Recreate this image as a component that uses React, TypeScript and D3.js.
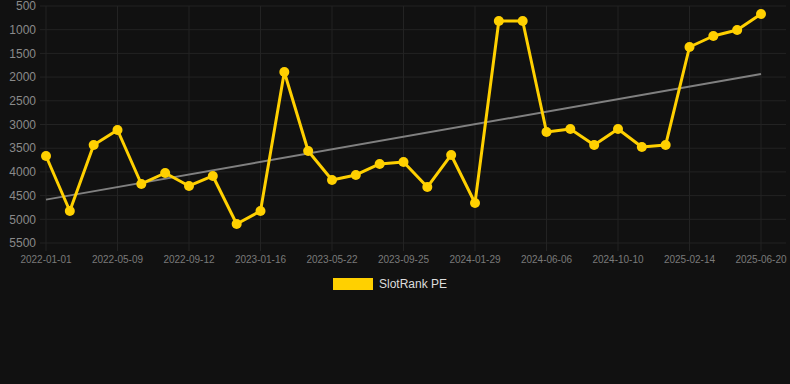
import React from "react";
import * as d3 from "d3";

const tickLabels = [
  "2022-01-01", "2022-05-09", "2022-09-12", "2023-01-16", "2023-05-22", "2023-09-25",
  "2024-01-29", "2024-06-06", "2024-10-10", "2025-02-14", "2025-06-20",
];
const rankValues = [
  3665, 4825, 3432, 3116, 4255, 4023, 4297, 4086, 5099, 4825,
  1892, 3559, 4171, 4065, 3833, 3791, 4319, 3643, 4656, 816,
  816, 3158, 3095, 3432, 3095, 3475, 3432, 1365, 1133, 1006, 669,
];
const yTicks = [500, 1000, 1500, 2000, 2500, 3000, 3500, 4000, 4500, 5000, 5500];
const seriesName = "SlotRank PE";

const W = 790, H = 384;
const left = 46, right = 761, top = 6, bottom = 243;
const gridRight = 786;

export default function App() {
  const n = rankValues.length;
  const idx = d3.range(n);
  const x = d3.scaleLinear().domain([0, n - 1]).range([left, right]);
  const y = d3.scaleLinear().domain([500, 5500]).range([top, bottom]);

  const meanX = d3.mean(idx)!;
  const meanY = d3.mean(rankValues)!;
  const slope = d3.sum(idx, (i) => (i - meanX) * (rankValues[i] - meanY)) / d3.sum(idx, (i) => (i - meanX) ** 2);
  const intercept = meanY - slope * meanX;

  const line = d3.line<number>().x((_, i) => x(i)).y((v) => y(v));
  const tickIdx = tickLabels.map((_, k) => k * 3);
  const font = "Arial, 'Liberation Sans', Helvetica, sans-serif";

  return (
    <svg width={W} height={H} style={{ position: "absolute", left: 0, top: 0, background: "#111111" }} fontFamily={font}>
      <rect width={W} height={H} fill="#111111" />
      {yTicks.map((t) => (
        <g key={t}>
          <line x1={left - 6} x2={gridRight} y1={y(t)} y2={y(t)} stroke="#232323" strokeWidth={1} />
          <text x={36} y={y(t)} dy="0.35em" textAnchor="end" fill="#8a8a8a" fontSize={12}>{t}</text>
        </g>
      ))}
      {tickIdx.map((i, k) => (
        <g key={i}>
          <line x1={x(i)} x2={x(i)} y1={top} y2={bottom + 8} stroke="#232323" strokeWidth={1} />
          <text x={x(i)} y={259} dy="0.35em" textAnchor="middle" fill="#7a7a7a" fontSize={10}>{tickLabels[k]}</text>
        </g>
      ))}
      <line
        x1={x(0)} y1={y(intercept)} x2={x(n - 1)} y2={y(intercept + slope * (n - 1))}
        stroke="#808080" strokeWidth={2}
      />
      <path d={line(rankValues)!} fill="none" stroke="#FFD000" strokeWidth={3} strokeLinejoin="round" />
      {rankValues.map((v, i) => (
        <circle key={i} cx={x(i)} cy={y(v)} r={5} fill="#FFD000" />
      ))}
      <rect x={333} y={278} width={40} height={12} fill="#FFD000" />
      <text x={379} y={284} dy="0.35em" fill="#dddddd" fontSize={12}>{seriesName}</text>
    </svg>
  );
}
